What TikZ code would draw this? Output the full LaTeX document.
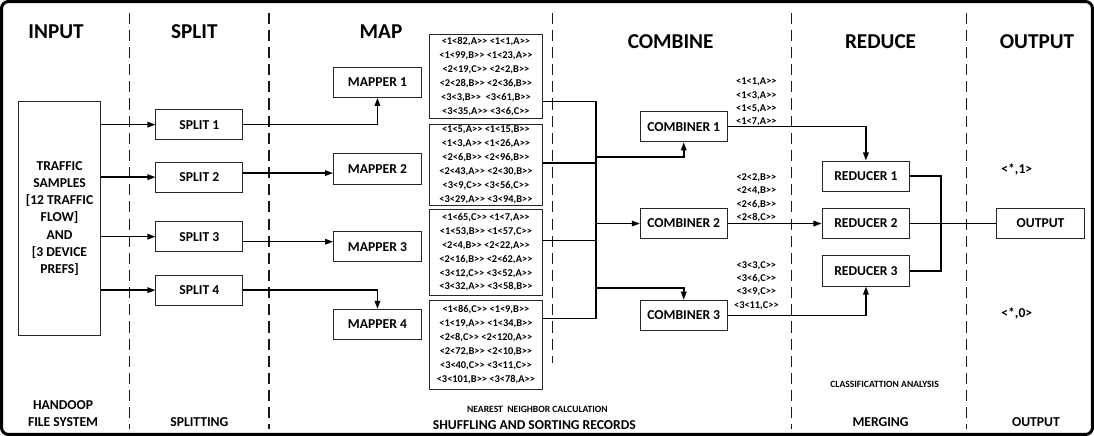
\documentclass[tikz,border=0pt]{standalone}
\usepackage{fontspec}
\newfontfamily\carl{Carlito}
\usetikzlibrary{arrows.meta}
\begin{document}
\begin{tikzpicture}[x=1pt,y=-1pt,
  every node/.style={font=\carl\bfseries, inner sep=0pt},
  procbox/.style={draw=black!85, line width=0.9pt, fill=white, minimum height=30pt,
    font=\carl\bfseries\fontsize{13.5}{16}\selectfont},
  databox/.style={draw=black!85, line width=0.9pt, fill=white, minimum width=112pt,
    align=center, font=\carl\bfseries\fontsize{10.3}{13.8}\selectfont},
  pairs/.style={align=center, font=\carl\bfseries\fontsize{10.3}{13}\selectfont},
  header/.style={font=\carl\bfseries\fontsize{21}{25}\selectfont},
  footer/.style={align=center, font=\carl\bfseries\fontsize{13.5}{17}\selectfont},
  note/.style={font=\carl\bfseries\fontsize{9.5}{11}\selectfont},
  wire/.style={line width=1.5pt},
  arrowline/.style={line width=1.5pt, -{Triangle[length=8pt,width=5.5pt]}},
  divider/.style={line width=1.4pt, dash pattern=on 11pt off 6pt, black!90}]

% frame and stage dividers
\draw[line width=3pt, rounded corners=7pt] (9,4) rectangle (1090,433);
\foreach \xx in {136,274,792,965}
  \draw[divider] (\xx,15) -- (\xx,428);
\draw[divider] (555,15) -- (555,362);

% stage titles
\node[header] (hInput)   at (63,34)   {INPUT};
\node[header] (hSplit)   at (200,34)  {SPLIT};
\node[header] (hMap)     at (385,34)  {MAP};
\node[header] (hCombine) at (672,44)  {COMBINE};
\node[header] (hReduce)  at (880,44)  {REDUCE};
\node[header] (hOutput)  at (1035,44) {OUTPUT};

% stage footers
\node[footer] (fInput)  at (70,412)   {HANDOOP\\FILE SYSTEM};
\node[footer] (fSplit)  at (205,421)  {SPLITTING};
\node[note]   (fNN)     at (540,408)  {NEAREST\ \ NEIGHBOR CALCULATION};
\node[footer] (fShuf)   at (537,424)  {SHUFFLING AND SORTING RECORDS};
\node[note]   (fClass)  at (884,383)  {CLASSIFICATTION ANALYSIS};
\node[footer] (fMerge)  at (880,421)  {MERGING};
\node[footer] (fOut)    at (1034,421) {OUTPUT};

% input data
\node[procbox, minimum width=82pt, minimum height=232pt, align=center,
      font=\carl\bfseries\fontsize{13.5}{17}\selectfont] (input) at (66.5,219)
  {TRAFFIC\\SAMPLES\\{[}12 TRAFFIC\\FLOW]\\AND\\{[}3 DEVICE\\PREFS]};

% splits
\node[procbox, minimum width=86pt] (split1) at (205,126) {SPLIT 1};
\node[procbox, minimum width=86pt] (split2) at (205,178) {SPLIT 2};
\node[procbox, minimum width=86pt] (split3) at (205,237) {SPLIT 3};
\node[procbox, minimum width=86pt] (split4) at (205,290) {SPLIT 4};

% mappers
\node[procbox, minimum width=87pt] (map1) at (381.5,84)  {MAPPER 1};
\node[procbox, minimum width=87pt] (map2) at (381.5,170) {MAPPER 2};
\node[procbox, minimum width=87pt] (map3) at (381.5,247) {MAPPER 3};
\node[procbox, minimum width=87pt] (map4) at (381.5,324) {MAPPER 4};

% intermediate key/value records
\node[databox, minimum height=83pt] (sh1) at (489,78.5)
  {<1<82,A>> <1<1,A>>\\<1<99,B>> <1<23,A>>\\<2<19,C>> <2<2,B>>\\<2<28,B>> <2<36,B>>\\<3<3,B>>\ \ <3<61,B>>\\<3<35,A>> <3<6,C>>};
\node[databox, minimum height=80pt] (sh2) at (489,166)
  {<1<5,A>> <1<15,B>>\\<1<3,A>> <1<26,A>>\\<2<6,B>> <2<96,B>>\\<2<43,A>> <2<30,B>>\\<3<9,C>> <3<56,C>>\\<3<29,A>> <3<94,B>>};
\node[databox, minimum height=85pt] (sh3) at (489,252.5)
  {<1<65,C>> <1<7,A>>\\<1<53,B>> <1<57,C>>\\<2<4,B>> <2<22,A>>\\<2<16,B>> <2<62,A>>\\<3<12,C>> <3<52,A>>\\<3<32,A>> <3<58,B>>};
\node[databox, minimum height=88pt] (sh4) at (489,344)
  {<1<86,C>> <1<9,B>>\\<1<19,A>> <1<34,B>>\\<2<8,C>> <2<120,A>>\\<2<72,B>> <2<10,B>>\\<3<40,C>> <3<11,C>>\\<3<101,B>> <3<78,A>>};

% combiners
\node[procbox, minimum width=86pt] (comb1) at (685,128) {COMBINER 1};
\node[procbox, minimum width=86pt] (comb2) at (685,224) {COMBINER 2};
\node[procbox, minimum width=86pt] (comb3) at (685,315) {COMBINER 3};

\node[pairs] (kv1) at (757,103.5) {<1<1,A>>\\<1<3,A>>\\<1<5,A>>\\<1<7,A>>};
\node[pairs] (kv2) at (757,198.5) {<2<2,B>>\\<2<4,B>>\\<2<6,B>>\\<2<8,C>>};
\node[pairs] (kv3) at (757,285.5) {<3<3,C>>\\<3<6,C>>\\<3<9,C>>\\<3<11,C>>};

% reducers and output
\node[procbox, minimum width=87pt] (red1) at (865.5,177) {REDUCER 1};
\node[procbox, minimum width=87pt] (red2) at (865.5,224) {REDUCER 2};
\node[procbox, minimum width=87pt] (red3) at (865.5,271) {REDUCER 3};
\node[procbox, minimum width=87pt] (out)  at (1038.5,224) {OUTPUT};

\node[footer] (one)  at (1015,170) {<*,1>};
\node[footer] (zero) at (1015,313) {<*,0>};

% input -> splits
\draw[arrowline] (input.east |- split1) -- (split1);
\draw[arrowline] (input.east |- split2) -- (split2);
\draw[arrowline] (input.east |- split3) -- (split3);
\draw[arrowline] (input.east |- split4) -- (split4);

% splits -> mappers
\draw[arrowline] (split1.east) -| (map1.south);
\draw[arrowline] ([yshift=4pt]split2.east) -- ([yshift=-4pt]map2.west);
\draw[arrowline] ([yshift=-5pt]split3.east) -- ([yshift=5pt]map3.west);
\draw[arrowline] (split4.east) -| (map4.north);

% shuffle bus
\coordinate (bus1) at (598,103);
\coordinate (bus2) at (598,164);
\coordinate (bus3) at (598,241);
\coordinate (bus4) at (598,318);
\coordinate (tap1) at (598,158);
\coordinate (tap2) at (598,224);
\coordinate (tap3) at (598,288);
\draw[wire] (sh1.east |- bus1) -- (bus1) -- (bus4) -- (sh4.east |- bus4);
\draw[wire] (sh2.east |- bus2) -- (bus2);
\draw[wire] (sh3.east |- bus3) -- (bus3);
\draw[arrowline] (tap1) -| (comb1.south);
\draw[arrowline] (tap2) -- (comb2.west);
\draw[arrowline] (tap3) -| (comb3.north);

% combiners -> reducers
\draw[arrowline] (comb1.east) -| (red1.north);
\draw[arrowline] (comb2.east) -- (red2.west);
\draw[arrowline] (comb3.east) -| (red3.south);

% reducers -> output
\coordinate (join) at (940,224);
\draw[wire] (red1.east) -| (join) |- (red3.east);
\draw[wire] (red2.east) -- (out.west);

\end{tikzpicture}
\end{document}
